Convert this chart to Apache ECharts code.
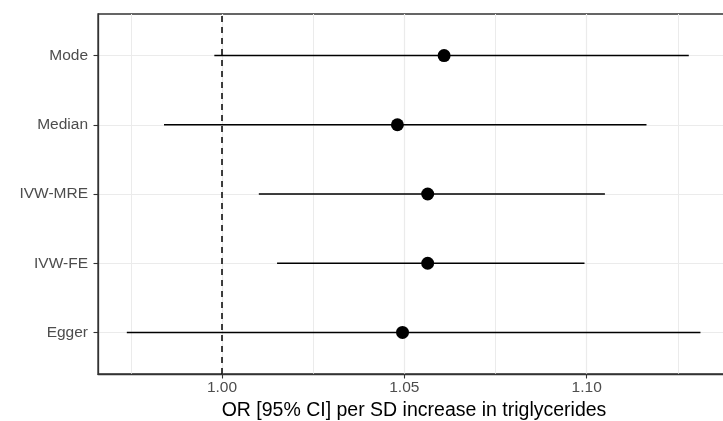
<!DOCTYPE html>
<html>
<head>
<meta charset="utf-8">
<script src="https://cdn.jsdelivr.net/npm/echarts@6/dist/echarts.min.js"></script>
<style>
html,body{margin:0;padding:0;background:#fff;}
#chart{width:723px;height:421px;}
</style>
</head>
<body>
<div id="chart"></div>
<script>
// Data
var methods = ['Egger', 'IVW-FE', 'IVW-MRE', 'Median', 'Mode'];
var orValues = [1.0495, 1.0564, 1.0564, 1.0481, 1.0609];
var lowerCI = [0.9739, 1.0151, 1.0101, 0.9841, 0.9979];
var upperCI = [1.1312, 1.0994, 1.1050, 1.1164, 1.1280];
var xTicks = [1.00, 1.05, 1.10];
var xMinorTicks = [0.975, 1.025, 1.075, 1.125];
var refValue = 1.0;
var xTitle = 'OR [95% CI] per SD increase in triglycerides';

var xMin = 0.9660, xMax = 1.1393;
var yIdx = methods.map(function (m, i) { return i + 1; });

var font = '"Liberation Sans", Arial, Helvetica, sans-serif';
var chart = echarts.init(document.getElementById('chart'), null, {renderer: 'canvas'});

var pointData = methods.map(function (m, i) { return [orValues[i], i + 1]; });
var ciData = methods.map(function (m, i) { return [lowerCI[i], upperCI[i], i + 1]; });

chart.setOption({
  animation: false,
  backgroundColor: '#ffffff',
  grid: {
    left: 98, right: -7, top: 14, bottom: 47,
    outerBoundsMode: 'none', containLabel: false,
    show: true, borderColor: '#333333', borderWidth: 1.3, backgroundColor: 'transparent'
  },
  xAxis: [{
    type: 'value', min: xMin, max: xMax,
    axisLine: {show: true, onZero: false, lineStyle: {color: '#333333', width: 1.3}},
    axisTick: {show: true, length: 4.5, customValues: xTicks, lineStyle: {color: '#333333', width: 1.1}},
    axisLabel: {customValues: xTicks, color: '#4d4d4d', fontSize: 15.5, fontFamily: font, margin: 6,
      formatter: function (v) { return v.toFixed(2); }},
    splitLine: {show: true, lineStyle: {color: '#ebebeb', width: 1.2}},
    name: xTitle, nameLocation: 'middle', nameGap: 21,
    nameTextStyle: {color: '#000000', fontSize: 19.5, fontFamily: font}
  }, {
    type: 'value', min: xMin, max: xMax, position: 'top',
    axisLine: {show: false},
    axisTick: {show: false, customValues: xMinorTicks},
    axisLabel: {show: false, customValues: xMinorTicks},
    splitLine: {show: true, lineStyle: {color: '#ebebeb', width: 1}}
  }],
  yAxis: {
    type: 'value', min: 0.4, max: 5.6,
    axisLine: {show: true, onZero: false, lineStyle: {color: '#333333', width: 1.3}},
    axisTick: {show: true, length: 4.5, customValues: yIdx, lineStyle: {color: '#333333', width: 1.1}},
    axisLabel: {customValues: yIdx, color: '#4d4d4d', fontSize: 15.5, fontFamily: font, margin: 10,
      formatter: function (v) { return methods[Math.round(v) - 1] || ''; }},
    splitLine: {show: true, lineStyle: {color: '#ebebeb', width: 1.2}}
  },
  series: [{
    type: 'custom',
    xAxisIndex: 0,
    data: ciData,
    renderItem: function (params, api) {
      var p1 = api.coord([api.value(0), api.value(2)]);
      var p2 = api.coord([api.value(1), api.value(2)]);
      return {
        type: 'line',
        shape: {x1: p1[0], y1: p1[1], x2: p2[0], y2: p2[1]},
        style: {stroke: '#000000', lineWidth: 1.5}
      };
    },
    z: 3
  }, {
    type: 'scatter',
    xAxisIndex: 0,
    data: pointData,
    symbol: 'circle',
    symbolSize: 13,
    itemStyle: {color: '#000000', opacity: 1},
    z: 5,
    markLine: {
      silent: true, symbol: 'none', animation: false,
      label: {show: false},
      lineStyle: {color: '#000000', type: [6, 5], width: 1.5},
      data: [{xAxis: refValue}]
    }
  }]
});
</script>
</body>
</html>
